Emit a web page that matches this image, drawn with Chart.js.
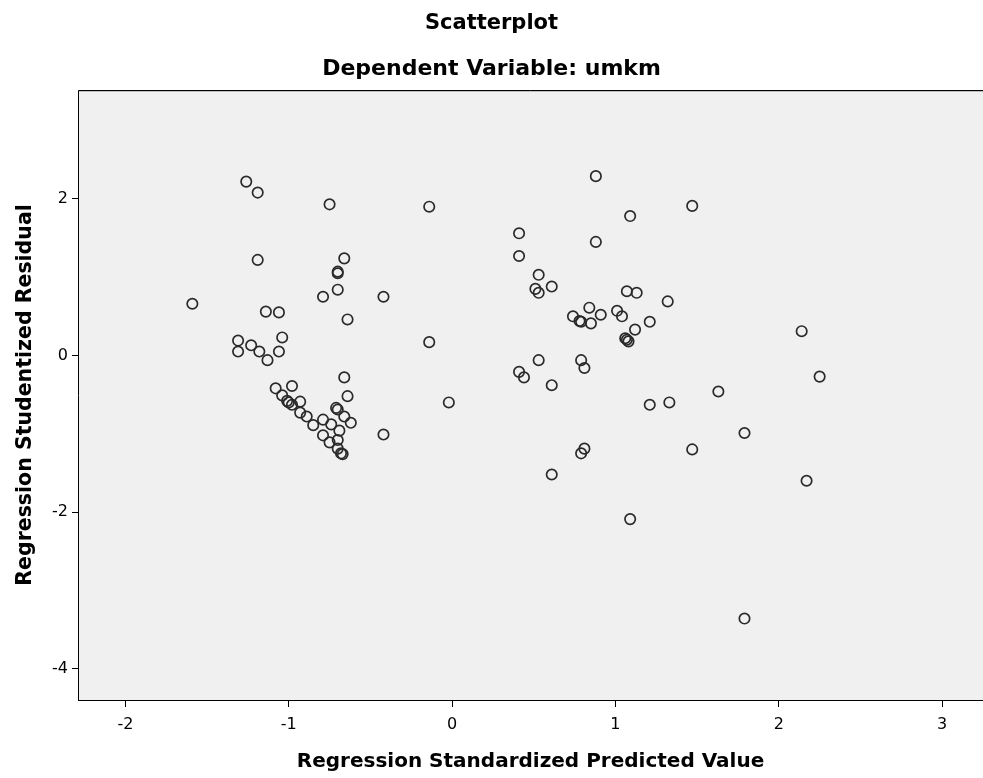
<!DOCTYPE html>
<html>
<head>
<meta charset="utf-8">
<script src="https://cdn.jsdelivr.net/npm/chart.js@4.4.1/dist/chart.umd.min.js"></script>
<style>
  html, body { margin: 0; padding: 0; background: #ffffff; }
  #c { display: block; }
</style>
</head>
<body>
<canvas id="c" width="983" height="778"></canvas>
<script>
// Regression Standardized Predicted Value (x) paired with Regression Studentized Residual (y)
const predictedValues = [
  -1.26, -1.19, -0.75, -1.19, -0.66, -0.70, -0.70, -0.70, -0.79, -0.42,
  -1.59, -1.14, -1.06, -0.64, -1.31, -1.04, -1.23, -1.31, -1.18, -1.06,
  -1.13, -0.66, -1.08, -0.98, -0.64, -1.04, -1.00, -1.01, -0.98, -0.93,
  -0.93, -0.89, -0.70, -0.71, -0.66, -0.62, -0.85, -0.79, -0.74, -0.69,
  -0.79, -0.75, -0.70, -0.70, -0.68, -0.67, -0.42,
  -0.14, -0.14, -0.02, 0.88, 1.09, 0.41, 0.88, 0.41, 0.53, 0.61,
  0.51, 0.53, 1.07, 1.13, 0.84, 0.74, 0.91, 0.79, 0.78, 0.85,
  1.01, 1.04, 1.12, 1.06, 1.08, 1.07, 1.32, 1.47, 1.21, 0.53,
  0.79, 0.81, 0.41, 0.44, 0.61, 0.81, 0.79, 1.21, 1.33, 1.63,
  1.47, 0.61, 1.09, 2.14, 2.25, 1.79, 2.17, 1.79
];
const studentizedResiduals = [
  2.22, 2.08, 1.93, 1.22, 1.24, 1.07, 1.05, 0.84, 0.75, 0.75,
  0.66, 0.56, 0.55, 0.46, 0.19, 0.23, 0.13, 0.05, 0.05, 0.05,
  -0.06, -0.28, -0.42, -0.39, -0.52, -0.51, -0.60, -0.58, -0.63, -0.59,
  -0.73, -0.78, -0.69, -0.67, -0.78, -0.86, -0.89, -0.82, -0.88, -0.96,
  -1.02, -1.11, -1.08, -1.19, -1.25, -1.26, -1.01,
  1.90, 0.17, -0.60, 2.29, 1.78, 1.56, 1.45, 1.27, 1.03, 0.88,
  0.85, 0.80, 0.82, 0.80, 0.61, 0.50, 0.52, 0.43, 0.44, 0.41,
  0.57, 0.50, 0.33, 0.22, 0.18, 0.20, 0.69, 1.91, 0.43, -0.06,
  -0.06, -0.16, -0.21, -0.28, -0.38, -1.19, -1.25, -0.63, -0.60, -0.46,
  -1.20, -1.52, -2.09, 0.31, -0.27, -0.99, -1.60, -3.36
];
const xTicks = [-2, -1, 0, 1, 2, 3];
const yTicks = [-4, -2, 0, 2];
const titleText = 'Scatterplot';
const subtitleText = 'Dependent Variable: umkm';
const xTitle = 'Regression Standardized Predicted Value';
const yTitle = 'Regression Studentized Residual';

const points = predictedValues.map((x, i) => ({ x: x, y: studentizedResiduals[i] }));

const FONT = "'DejaVu Sans', 'Liberation Sans', Arial, sans-serif";

const plotFrame = {
  id: 'plotFrame',
  beforeDatasetsDraw(chart) {
    const { ctx, chartArea: a } = chart;
    ctx.save();
    ctx.fillStyle = '#f0f0f0';
    ctx.fillRect(a.left, a.top, a.right - a.left, a.bottom - a.top);
    ctx.restore();
  },
  afterDatasetsDraw(chart) {
    const { ctx, chartArea: a } = chart;
    ctx.save();
    ctx.strokeStyle = '#bdbdbd';
    ctx.lineWidth = 1;
    ctx.beginPath();
    ctx.moveTo(a.left + 1, a.top + 1.5);
    ctx.lineTo(a.right, a.top + 1.5);
    ctx.stroke();
    ctx.strokeStyle = '#000000';
    ctx.beginPath();
    ctx.moveTo(a.left + 0.5, a.bottom + 0.5);
    ctx.lineTo(a.left + 0.5, a.top + 0.5);
    ctx.lineTo(a.right, a.top + 0.5);
    ctx.moveTo(a.left, a.bottom + 0.5);
    ctx.lineTo(a.right, a.bottom + 0.5);
    ctx.stroke();
    ctx.restore();
  }
};

new Chart(document.getElementById('c'), {
  type: 'scatter',
  data: {
    datasets: [{
      data: points,
      pointStyle: 'circle',
      pointRadius: 5.2,
      pointHoverRadius: 5.2,
      pointBorderWidth: 1.7,
      pointBorderColor: '#2a2a2a',
      pointBackgroundColor: 'rgba(0,0,0,0)',
      showLine: false
    }]
  },
  plugins: [plotFrame],
  options: {
    responsive: false,
    animation: false,
    layout: { padding: 0, autoPadding: false },
    plugins: {
      legend: { display: false },
      tooltip: { enabled: false },
      title: {
        display: true,
        text: titleText,
        color: '#000',
        font: { family: FONT, size: 21, weight: 'bold', lineHeight: 1 },
        padding: { top: 13, bottom: 8 }
      },
      subtitle: {
        display: true,
        text: subtitleText,
        color: '#000',
        font: { family: FONT, size: 22, weight: 'bold', lineHeight: 1 },
        padding: { top: 16.5, bottom: 9.5 }
      }
    },
    scales: {
      x: {
        type: 'linear',
        min: -2.29,
        max: 3.25,
        afterFit(scale) { scale.height = 78; scale.paddingLeft = 0; scale.paddingRight = 0; },
        afterBuildTicks(scale) { scale.ticks = xTicks.map(v => ({ value: v })); },
        ticks: {
          includeBounds: false,
          color: '#000',
          font: { family: FONT, size: 16 },
          padding: 8,
          maxRotation: 0,
          callback: v => String(v)
        },
        grid: { display: true, drawOnChartArea: false, drawTicks: true, tickLength: 7, color: '#000' },
        border: { display: true, color: '#000' },
        title: {
          display: true,
          text: xTitle,
          color: '#000',
          font: { family: FONT, size: 20, weight: 'bold', lineHeight: 1 },
          padding: { top: 0, bottom: 6.5 }
        }
      },
      y: {
        type: 'linear',
        min: -4.40,
        max: 3.39,
        afterFit(scale) { scale.width = 78; scale.paddingTop = 0; scale.paddingBottom = 0; },
        afterBuildTicks(scale) { scale.ticks = yTicks.map(v => ({ value: v })); },
        ticks: {
          includeBounds: false,
          color: '#000',
          font: { family: FONT, size: 16 },
          padding: 4,
          callback: v => String(v)
        },
        grid: { display: true, drawOnChartArea: false, drawTicks: true, tickLength: 6, color: '#000' },
        border: { display: true, color: '#000' },
        title: {
          display: true,
          text: yTitle,
          color: '#000',
          font: { family: FONT, size: 20.5, weight: 'bold', lineHeight: 1 },
          padding: { top: 15, bottom: 0 }
        }
      }
    }
  }
});
</script>
</body>
</html>
